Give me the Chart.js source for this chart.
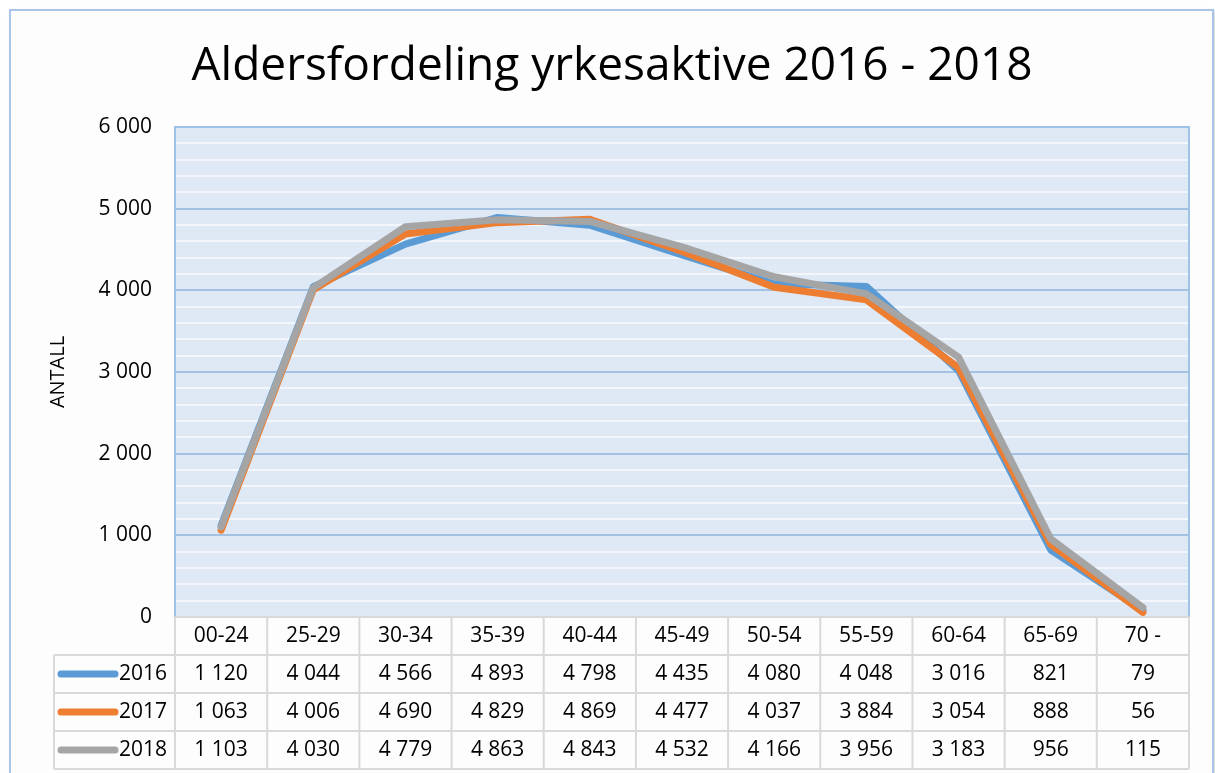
<!DOCTYPE html>
<html>
<head>
<meta charset="utf-8">
<script src="https://cdn.jsdelivr.net/npm/chart.js@4.4.0/dist/chart.umd.min.js"></script>
<style>
  html, body { margin: 0; padding: 0; background: #fff; overflow: hidden; }
  #frame {
    position: absolute; left: 9px; top: 9px; width: 1201px; height: 800px;
    border: 2px solid #a9c5e7; background: #fdfdfd;
    box-shadow: 2px 2px 4px rgba(0, 0, 0, 0.18);
  }
  canvas { position: absolute; left: 0; top: 0; }
</style>
</head>
<body>
<div id="frame"></div>
<canvas id="aldersChart" width="1215" height="773"></canvas>
<script>
// dados
const categories = ['00-24', '25-29', '30-34', '35-39', '40-44', '45-49', '50-54', '55-59', '60-64', '65-69', '70 -'];
const years = ['2016', '2017', '2018'];
const values2016 = [1120, 4044, 4566, 4893, 4798, 4435, 4080, 4048, 3016, 821, 79];
const values2017 = [1063, 4006, 4690, 4829, 4869, 4477, 4037, 3884, 3054, 888, 56];
const values2018 = [1103, 4030, 4779, 4863, 4843, 4532, 4166, 3956, 3183, 956, 115];
const yTickLabels = ['0', '1 000', '2 000', '3 000', '4 000', '5 000', '6 000'];
const colors = ['#5b9bd5', '#ed7d31', '#a5a5a5'];

const FONT = "'Open Sans', sans-serif";
Chart.defaults.font.family = FONT;
Chart.defaults.color = '#000';

const fmt = n => String(n).replace(/\B(?=(\d{3})+(?!\d))/g, ' ');

const seriesValues = [values2016, values2017, values2018];

// fundo da área do gráfico, título e tabela de dados
const tablePlugin = {
    id: 'dataTable',
    beforeDraw(chart) {
        const { ctx, chartArea: a } = chart;
        ctx.save();
        ctx.fillStyle = '#dee9f5';
        ctx.fillRect(a.left, a.top, a.right - a.left, a.bottom - a.top);
        ctx.restore();
    },
    afterDraw(chart) {
        const { ctx, chartArea: a } = chart;
        const xs = chart.scales.x;
        const step = (a.right - a.left) / categories.length;
        const rowH = 38;
        const top = a.bottom;
        const tableLeft = 54;

        ctx.save();

        // borda da área do gráfico
        ctx.strokeStyle = '#9dc3e6';
        ctx.lineWidth = 2;
        ctx.beginPath();
        ctx.moveTo(a.left, a.bottom);
        ctx.lineTo(a.left, a.top);
        ctx.lineTo(a.right, a.top);
        ctx.lineTo(a.right, a.bottom);
        ctx.stroke();

        // título
        ctx.fillStyle = '#000';
        ctx.font = "46px " + FONT;
        ctx.textAlign = 'center';
        ctx.textBaseline = 'alphabetic';
        ctx.fillText('Aldersfordeling yrkesaktive 2016 - 2018', 612, 80);

        // linhas da tabela
        ctx.strokeStyle = '#d9d9d9';
        ctx.lineWidth = 2;
        ctx.beginPath();
        ctx.moveTo(a.left, top);
        ctx.lineTo(a.right, top);
        for (let r = 1; r <= 4; r++) {
            ctx.moveTo(tableLeft, top + r * rowH);
            ctx.lineTo(a.right, top + r * rowH);
        }
        ctx.moveTo(tableLeft, top + rowH);
        ctx.lineTo(tableLeft, top + 4 * rowH);
        for (let i = 0; i <= categories.length; i++) {
            const x = a.left + i * step;
            ctx.moveTo(x, top);
            ctx.lineTo(x, top + 4 * rowH);
        }
        ctx.stroke();

        ctx.font = "21px " + FONT;
        ctx.fillStyle = '#000';
        ctx.textBaseline = 'middle';
        ctx.textAlign = 'center';
        categories.forEach((c, i) => {
            ctx.fillText(c, xs.getPixelForValue(i), top + rowH / 2);
        });

        years.forEach((y, r) => {
            const cy = top + (r + 1.5) * rowH;
            ctx.strokeStyle = colors[r];
            ctx.lineWidth = 7;
            ctx.lineCap = 'round';
            ctx.beginPath();
            ctx.moveTo(61, cy);
            ctx.lineTo(115, cy);
            ctx.stroke();

            ctx.textAlign = 'left';
            ctx.fillText(y, 119, cy);
            ctx.textAlign = 'center';
            seriesValues[r].forEach((v, i) => {
                ctx.fillText(fmt(v), xs.getPixelForValue(i), cy);
            });
        });

        ctx.restore();
    }
};

const ctx1 = document.getElementById('aldersChart').getContext('2d');

new Chart(ctx1, {
    type: 'line',
    data: {
        labels: categories,
        datasets: years.map((y, i) => ({
            label: y,
            data: seriesValues[i],
            borderColor: colors[i],
            backgroundColor: colors[i],
            borderWidth: 7,
            borderCapStyle: 'round',
            borderJoinStyle: 'round',
            pointRadius: 0,
            tension: 0,
            order: 3 - i
        }))
    },
    options: {
        responsive: false,
        animation: false,
        layout: { padding: { left: 0, top: 127, right: 26, bottom: 156 } },
        plugins: {
            legend: { display: false },
            tooltip: { enabled: false }
        },
        scales: {
            x: { display: false, offset: true },
            y: {
                min: 0,
                max: 6000,
                afterFit: s => { s.width = 175; },
                border: { display: false },
                grid: {
                    drawTicks: false,
                    lineWidth: 2,
                    color: c => (c.tick && c.tick.value % 1000 === 0) ? '#a3c1e3' : '#f3f6fa'
                },
                ticks: {
                    stepSize: 200,
                    autoSkip: false,
                    padding: 23,
                    font: { size: 21 },
                    callback: v => v % 1000 === 0 ? yTickLabels[v / 1000] : ''
                },
                title: {
                    display: true,
                    text: 'ANTALL',
                    font: { size: 20 },
                    padding: { top: 46, bottom: 0 }
                }
            }
        }
    },
    plugins: [tablePlugin]
});
</script>
</body>
</html>
